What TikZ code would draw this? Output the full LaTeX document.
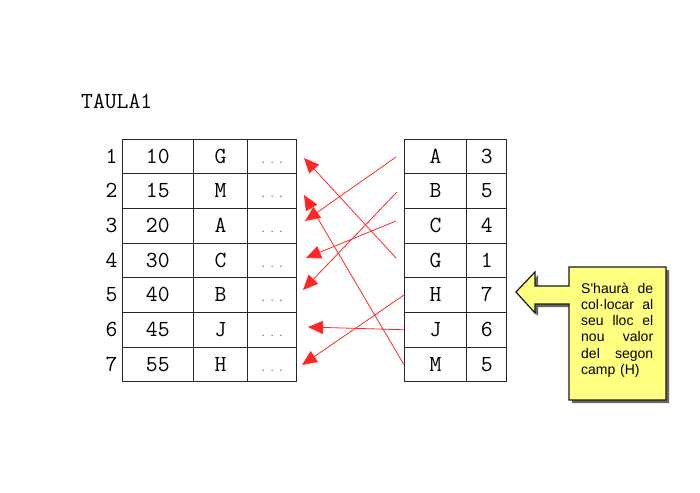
\documentclass[tikz,border=0pt]{standalone}
\usepackage{fontspec}
\newfontfamily\notefont{Liberation Sans}[Ligatures=TeXOff]
\usetikzlibrary{calc,positioning,arrows.meta}
\definecolor{notefill}{RGB}{255,255,128}

\begin{document}
\begin{tikzpicture}[x=1pt,y=-1pt,font=\ttfamily\fontsize{23}{27}\selectfont,
    cell/.style = {draw=black!85, line width=1pt, minimum height=34.6pt,
            inner sep=0pt, text height=13.3pt, text depth=0pt},
    rownum/.style = {inner sep=0pt, text height=13.3pt, text depth=0pt},
    move/.style = {draw=red!85, line width=.8pt, -{Triangle[length=15pt,width=13pt]}}]
    \useasboundingbox (0,0) rectangle (700,492);
    \node[anchor=base west,inner sep=0pt] (title) at (81,108) {TAULA1};
    % taula de l'esquerra
    \foreach \v/\c [count=\i] in {10/G,15/M,20/A,30/C,40/B,45/J,55/H}{
        \node[rownum] (k\i) at (111.5,{156.6+34.63*(\i-1)}) {\i};
        \node[cell,minimum width=71pt] (n\i) at (157.8,{156.6+34.63*(\i-1)}) {\v};
        \node[cell,minimum width=54.4pt] (c\i) at (220.5,{156.6+34.63*(\i-1)}) {\c};
        \node[cell,minimum width=49pt,text=black!70,font=\rmfamily\fontsize{14}{16}\selectfont] (d\i) at (272.2,{156.6+34.63*(\i-1)}) {.\hskip5pt.\hskip5pt.};
    }
    % taula de la dreta
    \foreach \c/\v [count=\i] in {A/3,B/5,C/4,G/1,H/7,J/6,M/5}{
        \node[cell,minimum width=62.4pt] (r\i) at (435.5,{156.6+34.63*(\i-1)}) {\c};
        \node[cell,minimum width=40pt] (s\i) at (486.7,{156.6+34.63*(\i-1)}) {\v};
    }
    \coordinate (tA) at (396,157);  \coordinate (hA) at (305,221);
    \coordinate (tB) at (397,192);  \coordinate (hB) at (303,290);
    \coordinate (tC) at (396,221);  \coordinate (hC) at (306,258);
    \coordinate (tG) at (396,258);  \coordinate (hG) at (304,158);
    \coordinate (tH) at (r5.west);  \coordinate (hH) at (302,365);
    \coordinate (tJ) at (r6.west);  \coordinate (hJ) at (308,327);
    \coordinate (tM) at (r7.west);  \coordinate (hM) at (304,195);
    \draw[move] (tA) -- (hA);
    \draw[move] (tB) -- (hB);
    \draw[move] (tC) -- (hC);
    \draw[move] (tG) -- (hG);
    \draw[move] (tH) -- (hH);
    \draw[move] (tJ) -- (hJ);
    \draw[move] (tM) -- (hM);
    % nota
    \fill[black!60,shift={(3,3)}] (569,267) -- (666,267) -- (666,400) -- (569,400) -- (569,304)
        -- (535,304) -- (535,313) -- (516,292) -- (535,272) -- (535,286) -- (569,286) -- cycle;
    \draw[fill=notefill,draw=black!90,line width=1.2pt] (569,267) -- (666,267) -- (666,400) -- (569,400) -- (569,304)
        -- (535,304) -- (535,313) -- (516,292) -- (535,272) -- (535,286) -- (569,286) -- cycle;
    \node[anchor=base west,text width=72pt,align=left,inner sep=0pt,
        font=\notefont\fontsize{14}{16.3}\selectfont] (note) at (581,293)
        {S'haurà\hfill de\\col·locar\hfill al\\seu\hfill lloc\hfill el\\nou\hfill valor\\del\hfill segon\\camp (H)};
\end{tikzpicture}
\end{document}
